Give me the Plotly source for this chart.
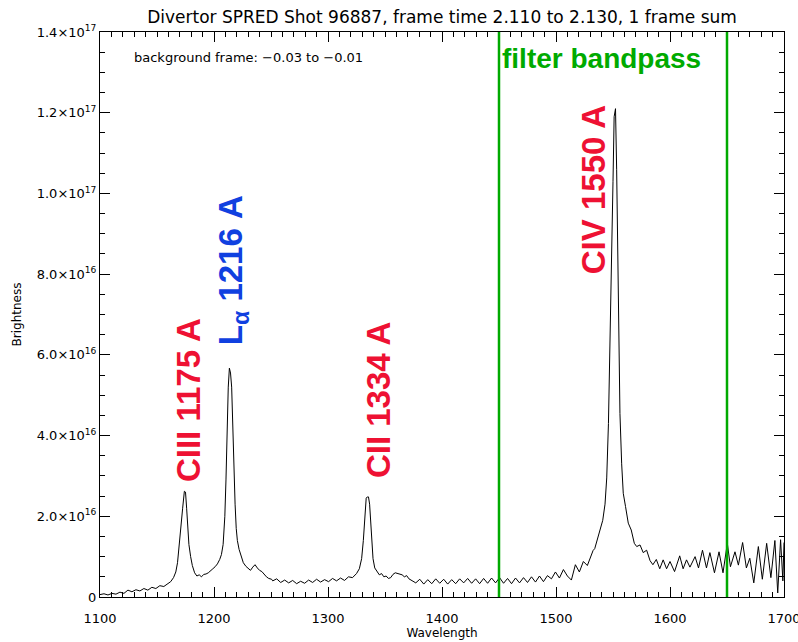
import plotly.graph_objects as go

# Spectrum (wavelength in Angstrom, brightness in units of 1e16)
WAVELENGTH = [
    1100, 1103.5, 1107, 1110.5, 1114, 1117.5, 1121, 1124.5, 1128, 1131.5,
    1135, 1138.5, 1142, 1145.5, 1149, 1152.5, 1156, 1159.5, 1162, 1164.5,
    1166.5, 1168, 1169.5, 1171, 1172.5, 1174, 1175, 1176, 1177, 1178,
    1179.5, 1181, 1183, 1185, 1187, 1189, 1191, 1193, 1195, 1197,
    1199, 1201, 1203, 1205, 1206.5, 1208, 1209.5, 1210.5, 1211.5, 1212.5,
    1213.5, 1214.5, 1215.5, 1216.5, 1217.5, 1218.5, 1219.5, 1220.5, 1222, 1224,
    1225.7, 1228, 1230, 1232, 1234, 1236, 1238, 1240, 1242, 1244,
    1246, 1248, 1250.5, 1251.5, 1255, 1258.5, 1262, 1265.5, 1269, 1272.5,
    1276, 1279.5, 1283, 1286.5, 1290, 1293.5, 1297, 1300.5, 1304, 1307.5,
    1311, 1314.5, 1318, 1321.5, 1325, 1327.5, 1329.5, 1331, 1332.5, 1333.5,
    1334.5, 1335.5, 1336.5, 1337.5, 1338.5, 1339.5, 1341, 1343, 1345, 1347,
    1349, 1351, 1353, 1355, 1357, 1359, 1361, 1363, 1365, 1367,
    1369, 1371, 1374, 1377, 1380.5, 1384, 1387.5, 1391, 1394.5, 1398,
    1401.5, 1405, 1408.5, 1412, 1415.5, 1419, 1422.5, 1426, 1429.5, 1433,
    1436.5, 1440, 1443.5, 1447, 1450.5, 1454, 1457.5, 1461, 1464.5, 1468,
    1471.5, 1475, 1478.5, 1482, 1485.5, 1489, 1492.5, 1496, 1499.5, 1503,
    1506.5, 1510, 1513.5, 1517, 1520.5, 1524, 1527.5, 1530, 1532.5, 1534,
    1536, 1538.5, 1541, 1543, 1544.5, 1546, 1547.5, 1549, 1550, 1551,
    1552.2, 1553.2, 1554.1, 1555.3, 1556.1, 1557.6, 1559, 1561, 1563.4, 1566,
    1568.7, 1570.8, 1573.7, 1576.5, 1579.5, 1582.5, 1585, 1588, 1591, 1594,
    1597, 1600, 1604, 1608.5, 1611.5, 1614.5, 1617.5, 1622, 1625, 1628.5,
    1632, 1635, 1639, 1643, 1646.5, 1650.3, 1653, 1657, 1660, 1663.7,
    1667, 1670, 1673.5, 1677.5, 1681, 1684.8, 1688.5, 1692, 1694.5, 1697,
    1699, 1700,
]
BRIGHTNESS_E16 = [
    0.06, 0.08, 0.05, 0.09, 0.07, 0.12, 0.09, 0.17, 0.13, 0.18,
    0.15, 0.21, 0.17, 0.24, 0.21, 0.28, 0.26, 0.34, 0.38, 0.48,
    0.62, 0.85, 1.35, 1.80, 2.20, 2.62, 2.60, 2.20, 1.80, 1.30,
    1.00, 0.78, 0.60, 0.52, 0.55, 0.50, 0.56, 0.57, 0.60, 0.64,
    0.70, 0.75, 0.82, 0.93, 1.05, 1.30, 2.00, 2.90, 4.30, 5.20,
    5.67, 5.55, 5.20, 4.00, 2.90, 2.30, 1.70, 1.40, 1.18, 1.00,
    0.85, 0.76, 0.70, 0.66, 0.74, 0.80, 0.72, 0.66, 0.63, 0.55,
    0.50, 0.46, 0.44, 0.40, 0.45, 0.36, 0.42, 0.35, 0.41, 0.33,
    0.39, 0.34, 0.42, 0.36, 0.44, 0.37, 0.43, 0.38, 0.46, 0.40,
    0.47, 0.41, 0.50, 0.48, 0.58, 0.70, 0.95, 1.40, 2.00, 2.45,
    2.48, 2.48, 2.30, 1.90, 1.30, 0.95, 0.72, 0.62, 0.55, 0.58,
    0.50, 0.52, 0.46, 0.48, 0.56, 0.60, 0.58, 0.56, 0.55, 0.50,
    0.53, 0.45, 0.40, 0.35, 0.44, 0.32, 0.43, 0.33, 0.45, 0.34,
    0.44, 0.32, 0.43, 0.33, 0.45, 0.35, 0.46, 0.34, 0.45, 0.33,
    0.46, 0.34, 0.47, 0.35, 0.48, 0.34, 0.46, 0.33, 0.47, 0.35,
    0.48, 0.36, 0.50, 0.37, 0.52, 0.38, 0.53, 0.45, 0.62, 0.47,
    0.68, 0.52, 0.42, 0.80, 0.62, 0.88, 0.78, 0.96, 1.15, 1.20,
    1.42, 1.66, 1.90, 2.30, 2.95, 4.30, 6.30, 8.10, 10.30, 11.90,
    12.10, 10.60, 8.20, 6.45, 4.55, 3.30, 2.57, 2.24, 1.83, 1.66,
    1.33, 1.25, 1.29, 1.10, 1.16, 0.90, 0.80, 0.93, 0.70, 0.92,
    0.70, 0.88, 0.63, 1.02, 0.70, 0.92, 0.74, 1.00, 0.72, 1.16,
    0.72, 1.10, 0.60, 1.12, 0.60, 1.33, 0.75, 1.12, 0.79, 1.35,
    0.72, 0.96, 0.35, 1.25, 0.44, 1.33, 0.48, 1.40, 0.10, 1.42,
    0.40, 1.35,
]
SCALE = 1e16

FILTER_EDGES = [1450, 1650]

LINE_LABELS = ["CIII 1175 A", "L<sub>α</sub> 1216 A", "CII 1334 A", "CIV 1550 A"]
LINE_LABEL_X = [1177.2, 1216.7, 1343.9, 1532.5]
LINE_LABEL_Y = [4.88e16, 8.1e16, 4.88e16, 10.08e16]
LINE_LABEL_COLORS = ["#ee1133", "#1040e0", "#ee1133", "#ee1133"]

Y_TICKS = [0, 2e16, 4e16, 6e16, 8e16, 1.0e17, 1.2e17, 1.4e17]
Y_TICK_TEXT = ["0", "2.0×10<sup>16</sup>", "4.0×10<sup>16</sup>", "6.0×10<sup>16</sup>",
               "8.0×10<sup>16</sup>", "1.0×10<sup>17</sup>", "1.2×10<sup>17</sup>",
               "1.4×10<sup>17</sup>"]
X_TICKS = [1100, 1200, 1300, 1400, 1500, 1600, 1700]

TITLE = "Divertor SPRED Shot 96887, frame time 2.110 to 2.130, 1 frame sum"
BG_NOTE = "background frame: −0.03 to −0.01"

BASE_FONT = "DejaVu Sans, Liberation Sans, sans-serif"
LABEL_FONT = "Liberation Sans Narrow, Arial Narrow, Liberation Sans, sans-serif"

fig = go.Figure()
fig.add_trace(go.Scatter(
    x=WAVELENGTH, y=[v * SCALE for v in BRIGHTNESS_E16],
    mode="lines", line=dict(color="black", width=1), showlegend=False,
    hoverinfo="skip",
))
# invisible trace to anchor the mirrored top/right axes
fig.add_trace(go.Scatter(x=[1100], y=[0], xaxis="x2", yaxis="y2", mode="markers",
                         marker=dict(opacity=0), showlegend=False, hoverinfo="skip"))

for xe in FILTER_EDGES:
    fig.add_shape(type="line", x0=xe, x1=xe, y0=0, y1=1, xref="x", yref="paper",
                  line=dict(color="#00aa00", width=2.5))

fig.add_annotation(x=1539.5, y=1.335e17, text="<b>filter bandpass</b>", showarrow=False,
                   font=dict(family=LABEL_FONT, size=28, color="#00aa00"),
                   xanchor="center", yanchor="middle")

for txt, lx, ly, col in zip(LINE_LABELS, LINE_LABEL_X, LINE_LABEL_Y, LINE_LABEL_COLORS):
    fig.add_annotation(x=lx, y=ly, text="<b>" + txt + "</b>", showarrow=False, textangle=-90,
                       font=dict(family=LABEL_FONT, size=33, color=col),
                       xanchor="center", yanchor="middle")

fig.add_annotation(x=0.047, y=0.955, xref="paper", yref="paper", text=BG_NOTE,
                   showarrow=False, xanchor="left", yanchor="middle",
                   font=dict(family=BASE_FONT, size=13, color="black"))

axis_common = dict(showgrid=False, zeroline=False, showline=True, linecolor="black",
                   linewidth=1, mirror=False, ticks="inside", tickcolor="black",
                   automargin=False,
                   tickfont=dict(family=BASE_FONT, size=13, color="black"))
axis_plain = {k: v for k, v in axis_common.items() if k != "tickfont"}

fig.update_layout(
    xaxis=dict(range=[1100, 1700], tickvals=X_TICKS, ticklen=10, ticklabelstandoff=9,
               ticklabeloverflow="allow",
               minor=dict(dtick=10, ticks="inside", ticklen=5, tickcolor="black"),
               title=dict(text="Wavelength", font=dict(family=BASE_FONT, size=12, color="black"),
                          standoff=3),
               **axis_common),
    yaxis=dict(range=[0, 1.4e17], tickvals=Y_TICKS, ticktext=Y_TICK_TEXT, ticklen=10,
               minor=dict(dtick=5e15, ticks="inside", ticklen=5, tickcolor="black"),
               title=dict(text="Brightness", font=dict(family=BASE_FONT, size=12, color="black"),
                          standoff=12),
               **axis_common),
    xaxis2=dict(range=[1100, 1700], overlaying="x", side="top", anchor="y2",
                tickvals=X_TICKS, ticklen=10, showticklabels=False,
                minor=dict(dtick=10, ticks="inside", ticklen=5, tickcolor="black"),
                **axis_plain),
    yaxis2=dict(range=[0, 1.4e17], overlaying="y", side="right", anchor="x2",
                tickvals=Y_TICKS, ticklen=10, showticklabels=False,
                minor=dict(dtick=5e15, ticks="inside", ticklen=5, tickcolor="black"),
                **axis_plain),
    width=798, height=642,
    margin=dict(l=100, r=14, t=32, b=45, autoexpand=False),
    paper_bgcolor="white", plot_bgcolor="white",
    title=dict(text=TITLE, x=(100 + 784) / 2 / 798, xanchor="center",
               y=1 - 17 / 642, yanchor="middle", yref="container",
               font=dict(family=BASE_FONT, size=17, color="black")),
)

fig.write_html("out.html")
